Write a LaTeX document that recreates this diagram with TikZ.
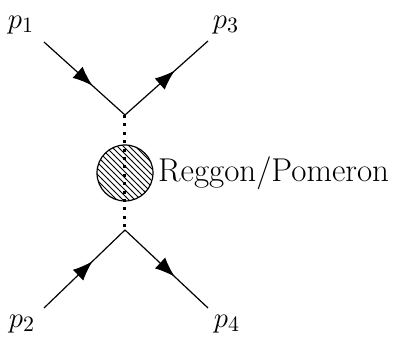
\documentclass[tikz,border=0pt]{standalone}
\usepackage{tikz}
\usetikzlibrary{arrows.meta,decorations.markings,patterns}

\begin{document}
\begin{tikzpicture}[x=0.5pt,y=-0.5pt,font=\fontsize{15}{18}\selectfont,line width=0.6pt,
  fermion/.style={postaction={decorate},decoration={markings,mark=at position 0.6 with {\arrow{Latex[length=10pt,width=7.5pt]}}}},
  exchange/.style={line width=1.5pt,dash pattern=on 1.5pt off 2.7pt},
  blobnode/.style={circle,draw,minimum size=28pt,inner sep=0pt,pattern=north west lines}]
\useasboundingbox (0,0) rectangle (393,341);
\coordinate (a1) at (44,42);
\coordinate (a3) at (208,41);
\coordinate (a2) at (44,308);
\coordinate (a4) at (208,308);
\coordinate (vt) at (125,115);
\coordinate (vb) at (125,230);
\node[blobnode] (blob) at (125,173) {};
\node (p1) at (21,25) {$p_1$};
\node (p3) at (226,25) {$p_3$};
\node (p2) at (22,324) {$p_2$};
\node (p4) at (227,324) {$p_4$};
\node[anchor=west,inner sep=2pt,font=\fontsize{16.5}{19}\selectfont] (lbl) at (blob.east) {Reggon/Pomeron};
\draw[fermion] (a1)--(vt);
\draw[fermion] (vt)--(a3);
\draw[fermion] (a2)--(vb);
\draw[fermion] (vb)--(a4);
\draw[exchange] (vt)--(vb);
\end{tikzpicture}
\end{document}
